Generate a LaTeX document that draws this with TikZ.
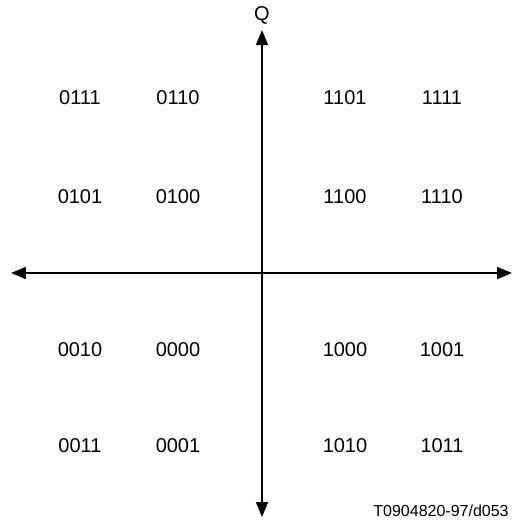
\documentclass[tikz,border=0pt]{standalone}
\usepackage{fontspec}
\setmainfont{Liberation Sans}
\usetikzlibrary{arrows.meta,positioning}

\begin{document}
\begin{tikzpicture}[x=1pt, y=1pt, every node/.style={font=\fontsize{20}{24}\selectfont, inner sep=0pt}]
    \useasboundingbox (-262,-250) rectangle (264,273);
    % axes
    \coordinate (o) at (0,0);
    \coordinate (top) at (0,243);
    \coordinate (bot) at (0,-244);
    \coordinate (lft) at (-251,0);
    \coordinate (rgt) at (250,0);
    \draw[line width=1.6pt, {Triangle[length=15pt, width=12pt]}-{Triangle[length=15pt, width=12pt]}] (lft) -- (rgt);
    \draw[line width=1.6pt, {Triangle[length=15pt, width=12pt]}-{Triangle[length=15pt, width=12pt]}] (bot) -- (top);
    \node[above=6pt of top] (q) {Q};
    % constellation labels
    \node (p0111) at (-182,175) {0111};
    \node (p0110) at (-84,175) {0110};
    \node (p1101) at (83,175) {1101};
    \node (p1111) at (180,175) {1111};
    \node (p0101) at (-182,76) {0101};
    \node (p0100) at (-84,76) {0100};
    \node (p1100) at (83,76) {1100};
    \node (p1110) at (180,76) {1110};
    \node (p0010) at (-182,-77) {0010};
    \node (p0000) at (-84,-77) {0000};
    \node (p1000) at (83,-77) {1000};
    \node (p1001) at (180,-77) {1001};
    \node (p0011) at (-182,-173) {0011};
    \node (p0001) at (-84,-173) {0001};
    \node (p1010) at (83,-173) {1010};
    \node (p1011) at (180,-173) {1011};
    \node[font=\fontsize{16}{19}\selectfont] (ref) at (179,-238) {T0904820-97/d053};
  \end{tikzpicture}
\end{document}
